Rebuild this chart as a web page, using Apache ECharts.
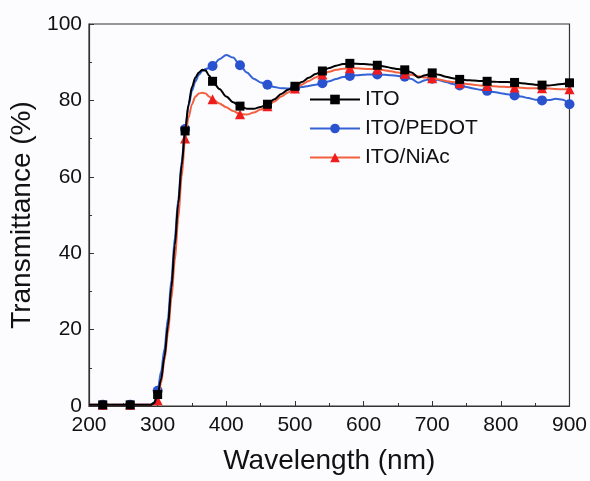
<!DOCTYPE html>
<html>
<head>
<meta charset="utf-8">
<script src="https://cdn.jsdelivr.net/npm/echarts@6/dist/echarts.min.js"></script>
<style>
html,body{margin:0;padding:0;background:#fcfcfe;}
#chart{width:590px;height:481px;}
</style>
</head>
<body>
<div id="chart"></div>
<script>
var wavelength = [200,220,240,260,280,290,295,300,305,310,315,320,325,330,335,340,345,350,355,360,365,370,375,380,390,400,410,420,430,440,450,460,470,480,490,500,510,520,530,540,550,560,570,580,590,600,610,620,630,640,650,660,670,680,690,700,710,720,730,740,750,760,770,780,790,800,810,820,830,840,850,860,870,880,890,900];
var ito = [0.3,0.3,0.3,0.3,0.3,0.3,0.8,3,7,13,21,31,42,53,63,72,79,83.5,86,87.3,88,87.8,86.5,85,83,81,79.5,78.5,77.8,77.8,78.3,79,80.3,81.7,82.8,83.7,84.8,85.9,86.9,87.7,88.5,89.1,89.5,89.7,89.6,89.5,89.4,89.2,88.9,88.5,88.2,88,87.3,86,86.6,87.2,86.7,86.2,85.8,85.5,85.3,85.2,85.1,85,84.9,84.8,84.8,84.7,84.5,84.3,84.1,84,83.9,84.1,84.3,84.6];
var pedot = [0.3,0.3,0.3,0.3,0.3,0.3,1,4,9,15,23,33,44,54,64,72.5,78.5,82.5,85,86.7,87.7,88.2,88.5,89,90.8,91.9,91.2,89.2,87.3,85.7,84.7,84.1,83.5,83.2,83.1,83.2,83.5,83.8,84.1,84.5,85,85.6,86.1,86.4,86.6,86.7,86.8,86.8,86.7,86.6,86.4,86.2,85.6,84.6,85.3,85.7,85.3,84.8,84.3,83.9,83.5,83.1,82.8,82.5,82.2,81.9,81.6,81.3,81,80.6,80.2,80,80.1,80.4,80.2,79];
var niac = [0.3,0.3,0.3,0.3,0.3,0.3,0.5,1.5,6,12,19,28,38,49,60,70,75.5,79,81,81.8,82,81.8,81,80.3,79.2,78.2,77.2,76.4,76.3,76.8,77.6,78.5,79.7,81,82.1,83.1,84.1,85.1,86,86.8,87.5,88,88.3,88.4,88.4,88.3,88.2,88.1,87.9,87.6,87.3,87,86.7,86.3,86,85.8,85.5,85.1,84.8,84.5,84.3,84.1,83.9,83.8,83.7,83.6,83.5,83.4,83.3,83.2,83.2,83.2,83.1,83,82.9,82.9];
var markerWavelengths = [220,260,300,340,380,420,460,500,540,580,620,660,700,740,780,820,860,900];
var seriesNames = ['ITO','ITO/PEDOT','ITO/NiAc'];

function build(vals){
  return wavelength.map(function(w,i){
    var item = {value:[w, vals[i]]};
    if (markerWavelengths.indexOf(w) < 0) item.symbol = 'none';
    return item;
  });
}

var chart = echarts.init(document.getElementById('chart'));
var font = 'Liberation Sans, Arial, sans-serif';
var axisColor = '#333';
chart.setOption({
  backgroundColor:'#fcfcfe',
  animation:false,
  grid:{left:89,right:20,top:24,bottom:75,show:true,borderColor:axisColor,borderWidth:1.2,backgroundColor:'transparent'},
  legend:{
    orient:'vertical', left:309, top:89, padding:0, itemWidth:50, itemHeight:12, itemGap:8,
    textStyle:{fontFamily:font,fontSize:21,color:'#111'},
    data:seriesNames
  },
  xAxis:{
    type:'value', min:200, max:900, interval:100,
    name:'Wavelength (nm)', nameLocation:'middle', nameGap:41,
    nameTextStyle:{fontFamily:font,fontSize:28,color:'#111'},
    axisLine:{lineStyle:{color:axisColor,width:1.2}},
    axisTick:{inside:true,length:5,lineStyle:{color:axisColor}},
    minorTick:{show:true,splitNumber:2,length:3,lineStyle:{color:axisColor}},
    splitLine:{show:false},
    axisLabel:{fontFamily:font,fontSize:21,color:'#111',margin:9}
  },
  yAxis:{
    type:'value', min:0, max:100, interval:20,
    name:'Transmittance (%)', nameLocation:'middle', nameGap:50,
    nameTextStyle:{fontFamily:font,fontSize:28,color:'#111'},
    axisLine:{show:true,lineStyle:{color:axisColor,width:1.2}},
    axisTick:{show:true,inside:true,length:5,lineStyle:{color:axisColor}},
    minorTick:{show:true,splitNumber:2,length:3,lineStyle:{color:axisColor}},
    splitLine:{show:false},
    axisLabel:{fontFamily:font,fontSize:21,color:'#111',margin:7}
  },
  series:[
    {name:seriesNames[0],type:'line',data:build(ito),smooth:0.3,smoothMonotone:'x',showAllSymbol:true,
     symbol:'rect',symbolSize:9,z:4,lineStyle:{color:'#000',width:2},itemStyle:{color:'#000'}},
    {name:seriesNames[1],type:'line',data:build(pedot),smooth:0.3,smoothMonotone:'x',showAllSymbol:true,
     symbol:'circle',symbolSize:10,z:2,lineStyle:{color:'#3563d6',width:2},itemStyle:{color:'#2a52cf'}},
    {name:seriesNames[2],type:'line',data:build(niac),smooth:0.3,smoothMonotone:'x',showAllSymbol:true,
     symbol:'triangle',symbolSize:10,z:3,lineStyle:{color:'#f2603f',width:2},itemStyle:{color:'#ee1c1c'}}
  ]
});
</script>
</body>
</html>
